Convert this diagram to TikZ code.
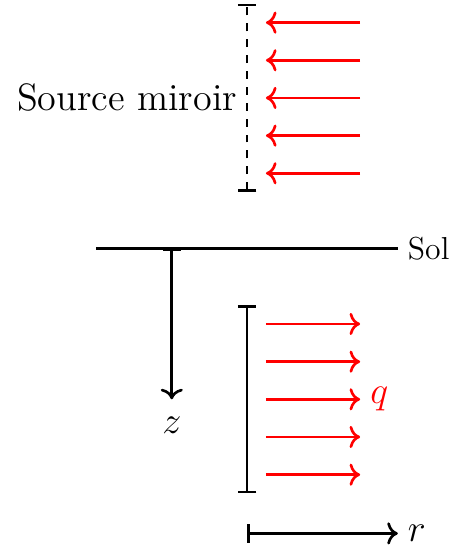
\documentclass[tikz,border=0pt]{standalone}
\usetikzlibrary{arrows.meta}
\tikzset{
  source/.style  = { line width=1pt, black, |-| },
  mirror/.style  = { line width=1pt, black, dashed, |-| },
  ground/.style  = { line width=1pt, black },
  axis/.style    = { line width=1pt, black, |-> },
  flux/.style    = { line width=1pt, red, -> },
  label/.style   = { font=\large },
  var/.style     = { font=\Large },
}

\begin{document}
\begin{tikzpicture}[>={To[scale=1.05]}]
    \useasboundingbox (-3.28,0) rectangle (2.71,7.30);

    % Source miroir
    \draw[mirror] (0,4.75) -- node[left, font=\Large] (miroir) {Source miroir} (0,7.25);
    \draw[flux] (1.5,5.0) -- (0.25,5.0);
    \draw[flux] (1.5,5.5) -- (0.25,5.5);
    \draw[flux] (1.5,6.0) -- (0.25,6.0);
    \draw[flux] (1.5,6.5) -- (0.25,6.5);
    \draw[flux] (1.5,7.0) -- (0.25,7.0);

    % Sol
    \draw[ground] (-2,4) -- (2,4) node[right, label] (sol) {Sol};

    % profondeur
    \draw[axis] (-1,4) -- (-1,2) node[below=3pt, var] (z) {$z$};

    % source reelle
    \draw[source] (0,0.75) -- (0,3.25);
    \draw[flux] (0.25,1.0) -- (1.5,1.0);
    \draw[flux] (0.25,1.5) -- (1.5,1.5);
    \draw[flux] (0.25,2.0) -- (1.5,2.0) node[right, var, text=red] (q) {$q$};
    \draw[flux] (0.25,2.5) -- (1.5,2.5);
    \draw[flux] (0.25,3.0) -- (1.5,3.0);

    % distance radiale
    \draw[axis] (0,0.22) -- (2,0.22) node[right, var] (r) {$r$};
\end{tikzpicture}
\end{document}
